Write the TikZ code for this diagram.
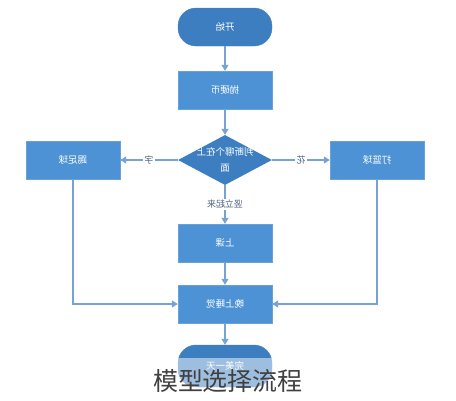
\documentclass[tikz,border=0pt]{standalone}
\usepackage{fontspec}
\usepackage{graphicx}
\usepackage{tikz}
\usetikzlibrary{shapes.geometric,arrows.meta}
\newfontfamily\cjk{Noto Sans CJK SC}
\definecolor{boxblue}{RGB}{76,146,212}
\definecolor{termblue}{RGB}{61,126,192}
\definecolor{linkblue}{RGB}{118,163,210}
\definecolor{labelgray}{RGB}{80,100,130}
\newcommand{\mirror}[1]{\reflectbox{#1}}

\begin{document}
\begin{tikzpicture}[x=1pt, y=-1pt,
	stepbox/.style={draw=boxblue!85!white, fill=boxblue, minimum width=94pt,
		minimum height=38pt, inner sep=0pt, text=white,
		font=\cjk\fontsize{9.5}{12}\selectfont},
	termbox/.style={stepbox, fill=termblue, draw=termblue, rounded corners=18pt},
	judgebox/.style={diamond, fill=termblue, minimum width=94pt,
		minimum height=50pt, inner sep=0pt},
	link/.style={draw=linkblue, line width=1.2pt, -{Triangle[width=7pt,length=6pt]}},
	tag/.style={fill=white, text=labelgray, inner sep=1.5pt,
		font=\cjk\fontsize{9}{11}\selectfont}]
	\useasboundingbox (0,0) rectangle (456,400);

	\node [termbox] (start) at (225,27) {\mirror{开始}};
	\node [stepbox] (coin) at (225,90) {\mirror{抛硬币}};

	\node [judgebox] (judge) at (225,160) {};
	\node [text=white, font=\cjk\fontsize{9.5}{16}\selectfont] (judgetext) at (judge)
	{\mirror{\begin{tabular}{@{}c@{}}判断哪个在上\\面\end{tabular}}};

	\node [stepbox] (kick) at (73,160) {\mirror{踢足球}};
	\node [stepbox] (hoop) at (377,160) {\mirror{打篮球}};

	\node [stepbox] (class) at (225,243) {\mirror{上课}};
	\node [stepbox] (sleep) at (225,304) {\mirror{晚上睡觉}};
	\node [termbox, minimum height=42pt] (finish) at (225,366) {\mirror{完美一天}};

	\draw [link] (start) -- (coin);
	\draw [link] (coin) -- (judge);
	\draw [link] (judge) -- node [tag] {\mirror{字}} (kick);
	\draw [link] (judge) -- node [tag] {\mirror{花}} (hoop);
	\draw [link] (judge) -- node [tag] {\mirror{竖立起来}} (class);
	\draw [link] (class) -- (sleep);
	\draw [link] (kick) |- (sleep);
	\draw [link] (hoop) |- (sleep);
	\draw [link] (sleep) -- (finish);

	% faded strip under the caption
	\fill [white, opacity=0.5] (0,358) rectangle (456,400);
	\node [text=black!75, font=\cjk\fontsize{25}{30}\selectfont] (caption) at (228,381)
	{模型选择流程};
\end{tikzpicture}
\end{document}
